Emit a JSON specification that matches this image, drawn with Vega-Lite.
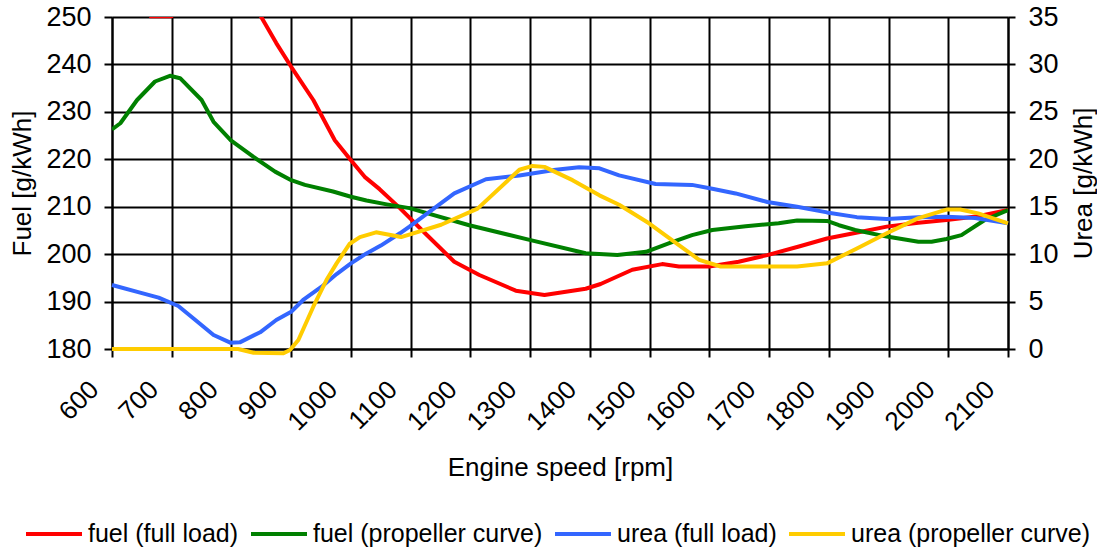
{
  "$schema": "https://vega.github.io/schema/vega-lite/v6.json",
  "width": 896,
  "height": 332,
  "autosize": {"type": "none"},
  "padding": {"left": 112, "top": 17, "right": 89, "bottom": 199},
  "background": "white",
  "config": {
    "view": {"stroke": null},
    "font": "Liberation Sans",
    "axis": {
      "labelFont": "Liberation Sans",
      "titleFont": "Liberation Sans",
      "labelFontSize": 27,
      "titleFontSize": 26,
      "labelColor": "black",
      "titleColor": "black",
      "titleFontWeight": "normal",
      "domainColor": "black",
      "domainWidth": 2,
      "tickColor": "black",
      "tickWidth": 2,
      "gridColor": "black",
      "gridWidth": 2,
      "gridOpacity": 1
    },
    "legend": {
      "labelFont": "Liberation Sans",
      "labelFontSize": 25,
      "labelColor": "black",
      "labelLimit": 500
    }
  },
  "data": {
    "values": [
      {"rpm": 600, "value": 262, "series": "fuel (full load)"},
      {"rpm": 665, "value": 250.15, "series": "fuel (full load)"},
      {"rpm": 700, "value": 250.15, "series": "fuel (full load)"},
      {"rpm": 750, "value": 265, "series": "fuel (full load)"},
      {"rpm": 800, "value": 262, "series": "fuel (full load)"},
      {"rpm": 848, "value": 250.4, "series": "fuel (full load)"},
      {"rpm": 875, "value": 244.5, "series": "fuel (full load)"},
      {"rpm": 900, "value": 239.5, "series": "fuel (full load)"},
      {"rpm": 937, "value": 232.5, "series": "fuel (full load)"},
      {"rpm": 973, "value": 224, "series": "fuel (full load)"},
      {"rpm": 1000, "value": 219.8, "series": "fuel (full load)"},
      {"rpm": 1023, "value": 216.3, "series": "fuel (full load)"},
      {"rpm": 1048, "value": 213.7, "series": "fuel (full load)"},
      {"rpm": 1082, "value": 209.7, "series": "fuel (full load)"},
      {"rpm": 1125, "value": 204.3, "series": "fuel (full load)"},
      {"rpm": 1173, "value": 198.4, "series": "fuel (full load)"},
      {"rpm": 1215, "value": 195.6, "series": "fuel (full load)"},
      {"rpm": 1276, "value": 192.3, "series": "fuel (full load)"},
      {"rpm": 1324, "value": 191.4, "series": "fuel (full load)"},
      {"rpm": 1393, "value": 192.7, "series": "fuel (full load)"},
      {"rpm": 1418, "value": 193.7, "series": "fuel (full load)"},
      {"rpm": 1471, "value": 196.7, "series": "fuel (full load)"},
      {"rpm": 1521, "value": 197.9, "series": "fuel (full load)"},
      {"rpm": 1549, "value": 197.4, "series": "fuel (full load)"},
      {"rpm": 1600, "value": 197.4, "series": "fuel (full load)"},
      {"rpm": 1649, "value": 198.4, "series": "fuel (full load)"},
      {"rpm": 1697, "value": 199.8, "series": "fuel (full load)"},
      {"rpm": 1750, "value": 201.6, "series": "fuel (full load)"},
      {"rpm": 1797, "value": 203.3, "series": "fuel (full load)"},
      {"rpm": 1850, "value": 204.6, "series": "fuel (full load)"},
      {"rpm": 1897, "value": 205.8, "series": "fuel (full load)"},
      {"rpm": 1950, "value": 206.6, "series": "fuel (full load)"},
      {"rpm": 1997, "value": 207.2, "series": "fuel (full load)"},
      {"rpm": 2050, "value": 208.0, "series": "fuel (full load)"},
      {"rpm": 2100, "value": 209.3, "series": "fuel (full load)"},

      {"rpm": 600, "value": 226.3, "series": "fuel (propeller curve)"},
      {"rpm": 614, "value": 227.6, "series": "fuel (propeller curve)"},
      {"rpm": 642, "value": 232.5, "series": "fuel (propeller curve)"},
      {"rpm": 672, "value": 236.4, "series": "fuel (propeller curve)"},
      {"rpm": 697, "value": 237.6, "series": "fuel (propeller curve)"},
      {"rpm": 714, "value": 237.1, "series": "fuel (propeller curve)"},
      {"rpm": 750, "value": 232.5, "series": "fuel (propeller curve)"},
      {"rpm": 770, "value": 227.9, "series": "fuel (propeller curve)"},
      {"rpm": 799, "value": 224, "series": "fuel (propeller curve)"},
      {"rpm": 837, "value": 220.5, "series": "fuel (propeller curve)"},
      {"rpm": 873, "value": 217.4, "series": "fuel (propeller curve)"},
      {"rpm": 900, "value": 215.6, "series": "fuel (propeller curve)"},
      {"rpm": 923, "value": 214.6, "series": "fuel (propeller curve)"},
      {"rpm": 970, "value": 213.2, "series": "fuel (propeller curve)"},
      {"rpm": 1000, "value": 212.1, "series": "fuel (propeller curve)"},
      {"rpm": 1026, "value": 211.3, "series": "fuel (propeller curve)"},
      {"rpm": 1060, "value": 210.5, "series": "fuel (propeller curve)"},
      {"rpm": 1098, "value": 209.7, "series": "fuel (propeller curve)"},
      {"rpm": 1198, "value": 206.1, "series": "fuel (propeller curve)"},
      {"rpm": 1299, "value": 203, "series": "fuel (propeller curve)"},
      {"rpm": 1393, "value": 200.2, "series": "fuel (propeller curve)"},
      {"rpm": 1446, "value": 199.8, "series": "fuel (propeller curve)"},
      {"rpm": 1494, "value": 200.5, "series": "fuel (propeller curve)"},
      {"rpm": 1533, "value": 202.3, "series": "fuel (propeller curve)"},
      {"rpm": 1571, "value": 204, "series": "fuel (propeller curve)"},
      {"rpm": 1605, "value": 205.1, "series": "fuel (propeller curve)"},
      {"rpm": 1661, "value": 205.9, "series": "fuel (propeller curve)"},
      {"rpm": 1716, "value": 206.5, "series": "fuel (propeller curve)"},
      {"rpm": 1747, "value": 207.1, "series": "fuel (propeller curve)"},
      {"rpm": 1797, "value": 207, "series": "fuel (propeller curve)"},
      {"rpm": 1817, "value": 206.1, "series": "fuel (propeller curve)"},
      {"rpm": 1844, "value": 205.1, "series": "fuel (propeller curve)"},
      {"rpm": 1897, "value": 203.7, "series": "fuel (propeller curve)"},
      {"rpm": 1950, "value": 202.6, "series": "fuel (propeller curve)"},
      {"rpm": 1972, "value": 202.6, "series": "fuel (propeller curve)"},
      {"rpm": 1997, "value": 203.2, "series": "fuel (propeller curve)"},
      {"rpm": 2022, "value": 204, "series": "fuel (propeller curve)"},
      {"rpm": 2061, "value": 207.2, "series": "fuel (propeller curve)"},
      {"rpm": 2100, "value": 209.3, "series": "fuel (propeller curve)"},

      {"rpm": 600, "value": 6.75, "series": "urea (full load)"},
      {"rpm": 647, "value": 5.94, "series": "urea (full load)"},
      {"rpm": 678, "value": 5.41, "series": "urea (full load)"},
      {"rpm": 711, "value": 4.53, "series": "urea (full load)"},
      {"rpm": 736, "value": 3.24, "series": "urea (full load)"},
      {"rpm": 770, "value": 1.48, "series": "urea (full load)"},
      {"rpm": 798, "value": 0.67, "series": "urea (full load)"},
      {"rpm": 814, "value": 0.7, "series": "urea (full load)"},
      {"rpm": 848, "value": 1.76, "series": "urea (full load)"},
      {"rpm": 875, "value": 3.06, "series": "urea (full load)"},
      {"rpm": 900, "value": 3.93, "series": "urea (full load)"},
      {"rpm": 920, "value": 5.17, "series": "urea (full load)"},
      {"rpm": 951, "value": 6.57, "series": "urea (full load)"},
      {"rpm": 976, "value": 7.9, "series": "urea (full load)"},
      {"rpm": 1000, "value": 9.03, "series": "urea (full load)"},
      {"rpm": 1026, "value": 10.08, "series": "urea (full load)"},
      {"rpm": 1050, "value": 10.9, "series": "urea (full load)"},
      {"rpm": 1082, "value": 12.2, "series": "urea (full load)"},
      {"rpm": 1098, "value": 12.9, "series": "urea (full load)"},
      {"rpm": 1173, "value": 16.4, "series": "urea (full load)"},
      {"rpm": 1226, "value": 17.9, "series": "urea (full load)"},
      {"rpm": 1282, "value": 18.3, "series": "urea (full load)"},
      {"rpm": 1343, "value": 18.9, "series": "urea (full load)"},
      {"rpm": 1382, "value": 19.15, "series": "urea (full load)"},
      {"rpm": 1416, "value": 19.05, "series": "urea (full load)"},
      {"rpm": 1449, "value": 18.3, "series": "urea (full load)"},
      {"rpm": 1510, "value": 17.4, "series": "urea (full load)"},
      {"rpm": 1571, "value": 17.3, "series": "urea (full load)"},
      {"rpm": 1605, "value": 16.9, "series": "urea (full load)"},
      {"rpm": 1644, "value": 16.4, "series": "urea (full load)"},
      {"rpm": 1697, "value": 15.5, "series": "urea (full load)"},
      {"rpm": 1747, "value": 15.0, "series": "urea (full load)"},
      {"rpm": 1797, "value": 14.4, "series": "urea (full load)"},
      {"rpm": 1847, "value": 13.9, "series": "urea (full load)"},
      {"rpm": 1897, "value": 13.7, "series": "urea (full load)"},
      {"rpm": 1950, "value": 13.9, "series": "urea (full load)"},
      {"rpm": 1997, "value": 13.95, "series": "urea (full load)"},
      {"rpm": 2045, "value": 13.8, "series": "urea (full load)"},
      {"rpm": 2100, "value": 13.25, "series": "urea (full load)"},

      {"rpm": 600, "value": 0, "series": "urea (propeller curve)"},
      {"rpm": 811, "value": 0, "series": "urea (propeller curve)"},
      {"rpm": 837, "value": -0.4, "series": "urea (propeller curve)"},
      {"rpm": 887, "value": -0.45, "series": "urea (propeller curve)"},
      {"rpm": 898, "value": -0.1, "series": "urea (propeller curve)"},
      {"rpm": 912, "value": 0.95, "series": "urea (propeller curve)"},
      {"rpm": 937, "value": 4.46, "series": "urea (propeller curve)"},
      {"rpm": 959, "value": 7.27, "series": "urea (propeller curve)"},
      {"rpm": 976, "value": 9.03, "series": "urea (propeller curve)"},
      {"rpm": 998, "value": 11.1, "series": "urea (propeller curve)"},
      {"rpm": 1015, "value": 11.8, "series": "urea (propeller curve)"},
      {"rpm": 1042, "value": 12.3, "series": "urea (propeller curve)"},
      {"rpm": 1084, "value": 11.8, "series": "urea (propeller curve)"},
      {"rpm": 1151, "value": 13.1, "series": "urea (propeller curve)"},
      {"rpm": 1212, "value": 14.8, "series": "urea (propeller curve)"},
      {"rpm": 1282, "value": 18.9, "series": "urea (propeller curve)"},
      {"rpm": 1304, "value": 19.3, "series": "urea (propeller curve)"},
      {"rpm": 1324, "value": 19.2, "series": "urea (propeller curve)"},
      {"rpm": 1371, "value": 17.8, "series": "urea (propeller curve)"},
      {"rpm": 1416, "value": 16.2, "series": "urea (propeller curve)"},
      {"rpm": 1449, "value": 15.2, "series": "urea (propeller curve)"},
      {"rpm": 1499, "value": 13.25, "series": "urea (propeller curve)"},
      {"rpm": 1549, "value": 10.96, "series": "urea (propeller curve)"},
      {"rpm": 1583, "value": 9.4, "series": "urea (propeller curve)"},
      {"rpm": 1619, "value": 8.7, "series": "urea (propeller curve)"},
      {"rpm": 1747, "value": 8.7, "series": "urea (propeller curve)"},
      {"rpm": 1797, "value": 9.03, "series": "urea (propeller curve)"},
      {"rpm": 1847, "value": 10.6, "series": "urea (propeller curve)"},
      {"rpm": 1897, "value": 12.2, "series": "urea (propeller curve)"},
      {"rpm": 1950, "value": 13.8, "series": "urea (propeller curve)"},
      {"rpm": 1997, "value": 14.7, "series": "urea (propeller curve)"},
      {"rpm": 2020, "value": 14.7, "series": "urea (propeller curve)"},
      {"rpm": 2050, "value": 14.3, "series": "urea (propeller curve)"},
      {"rpm": 2100, "value": 13.25, "series": "urea (propeller curve)"}
    ]
  },
  "encoding": {
    "x": {
      "field": "rpm",
      "type": "quantitative",
      "scale": {"domain": [600, 2100], "nice": false, "zero": false},
      "axis": {
        "title": "Engine speed [rpm]",
        "values": [600, 700, 800, 900, 1000, 1100, 1200, 1300, 1400, 1500, 1600, 1700, 1800, 1900, 2000, 2100],
        "format": "d",
        "grid": true,
        "tickSize": 8,
        "labelFontSize": 26,
        "labelAngle": -45,
        "labelAlign": "right",
        "labelBaseline": "middle",
        "labelPadding": 28,
        "labelOffset": -18,
        "labelOverlap": false,
        "titleX": 448,
        "titleY": 126,
        "titleAnchor": null,
        "titleAlign": "center",
        "titleBaseline": "alphabetic"
      }
    },
    "color": {
      "field": "series",
      "type": "nominal",
      "scale": {
        "domain": ["fuel (full load)", "fuel (propeller curve)", "urea (full load)", "urea (propeller curve)"],
        "range": ["#FF0000", "#008000", "#3366FF", "#FFCC00"]
      },
      "legend": {
        "title": null,
        "orient": "none",
        "direction": "horizontal",
        "columns": 4,
        "legendX": -88,
        "legendY": 487,
        "symbolType": "stroke",
        "symbolSize": 3136,
        "symbolStrokeWidth": 4,
        "labelOffset": 4,
        "columnPadding": 4,
        "padding": 0
      }
    }
  },
  "layer": [
    {
      "transform": [{"filter": "indexof(datum.series, 'fuel') == 0"}],
      "mark": {"type": "line", "clip": true, "strokeWidth": 4, "strokeJoin": "round"},
      "encoding": {
        "y": {
          "field": "value",
          "type": "quantitative",
          "scale": {"domain": [180, 250], "nice": false, "zero": false},
          "axis": {
            "orient": "left",
            "title": "Fuel [g/kWh]",
            "values": [180, 190, 200, 210, 220, 230, 240, 250],
            "grid": true,
            "tickSize": 8,
            "labelPadding": 13,
            "titleAngle": -90,
            "titleX": -90,
            "titleY": 166,
            "titleAlign": "center",
            "titleBaseline": "middle",
            "titleAnchor": null
          }
        }
      }
    },
    {
      "transform": [{"filter": "indexof(datum.series, 'urea') == 0"}],
      "mark": {"type": "line", "clip": false, "strokeWidth": 4, "strokeJoin": "round"},
      "encoding": {
        "y": {
          "field": "value",
          "type": "quantitative",
          "scale": {"domain": [0, 35], "nice": false, "zero": false},
          "axis": {
            "orient": "right",
            "title": "Urea [g/kWh]",
            "values": [0, 5, 10, 15, 20, 25, 30, 35],
            "grid": false,
            "tickSize": 7,
            "labelPadding": 13,
            "titleAngle": -90,
            "titleX": 75,
            "titleY": 166,
            "titleAlign": "center",
            "titleBaseline": "middle",
            "titleAnchor": null
          }
        }
      }
    }
  ],
  "resolve": {"scale": {"y": "independent"}}
}
